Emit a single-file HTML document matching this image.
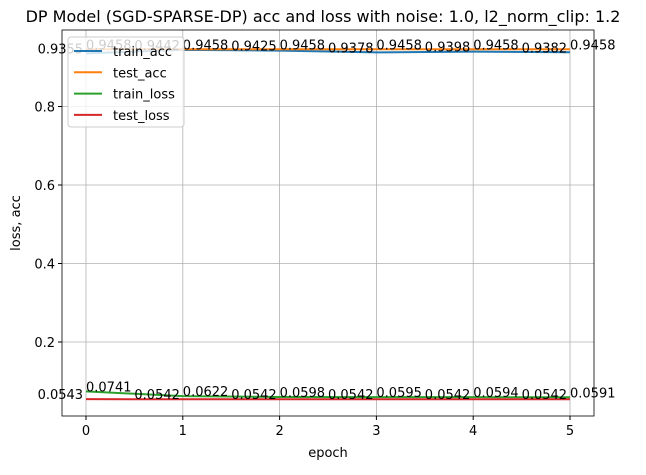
<!DOCTYPE html>
<html><head><meta charset="utf-8"><style>
body{margin:0;background:#fff;font-family:"Liberation Sans","DejaVu Sans",sans-serif}
svg text{font-family:"DejaVu Sans","Liberation Sans",sans-serif}
</style></head><body>
<svg id="c" width="646" height="470"></svg>
<script>
const epochs=[0,1,2,3,4,5];
const trainAcc=[0.9355,0.9442,0.9425,0.9378,0.9398,0.9382];
const testAcc=[0.9458,0.9458,0.9458,0.9458,0.9458,0.9458];
const trainLoss=[0.0741,0.0622,0.0598,0.0595,0.0594,0.0591];
const testLoss=[0.0543,0.0542,0.0542,0.0542,0.0542,0.0542];
const xTicks=[0,1,2,3,4,5];
const yTicks=[0.2,0.4,0.6,0.8];
const L=62,R=594,T=30,B=416;
const X=v=>86+v*96.8, Y=v=>420.5-v*392.5;
const s=document.getElementById('c');const NS='http://www.w3.org/2000/svg';
function el(t,a,txt){const e=document.createElementNS(NS,t);for(const k in a)e.setAttribute(k,a[k]);if(txt!=null)e.textContent=txt;s.appendChild(e);return e;}
let e;
e=el('text',{x:323,y:22,'text-anchor':'middle','font-size':16},'DP Model (SGD-SPARSE-DP) acc and loss with noise: 1.0, l2_norm_clip: 1.2');

xTicks.forEach(t=>{el('line',{x1:X(t),x2:X(t),y1:T,y2:B,stroke:'#b0b0b0','stroke-width':0.8});el('line',{x1:X(t),x2:X(t),y1:B,y2:B+4,stroke:'#000'});
e=el('text',{x:X(t),y:B+19,'text-anchor':'middle','font-size':13},String(t));});
yTicks.forEach(t=>{el('line',{x1:L,x2:R,y1:Y(t),y2:Y(t),stroke:'#b0b0b0','stroke-width':0.8});el('line',{x1:L-4,x2:L,y1:Y(t),y2:Y(t),stroke:'#000'});
e=el('text',{x:L-7,y:Y(t)+5,'text-anchor':'end','font-size':13},t.toFixed(1));});
e=el('rect',{x:L,y:T,width:R-L,height:B-T,fill:'none',stroke:'#000','stroke-width':0.8});
e=el('text',{x:328,y:457,'text-anchor':'middle','font-size':13},'epoch');
e=el('text',{x:20,y:223,'text-anchor':'middle','font-size':13,transform:'rotate(-90 20 223)'},'loss, acc');
const series=[['train-acc',trainAcc,'#1f77b4'],['test-acc',testAcc,'#ff7f0e'],['train-loss',trainLoss,'#2ca02c'],['test-loss',testLoss,'#d62728']];
series.forEach(([n,d,c])=>{e=el('polyline',{points:d.map((v,i)=>X(epochs[i])+','+Y(v)).join(' '),fill:'none',stroke:c,'stroke-width':2});});
function labels(d,off){d.forEach((v,i)=>{e=el('text',{x:X(epochs[i]+off),y:Y(v),'font-size':13},v.toFixed(4));});}
labels(trainAcc,-0.5);labels(testAcc,0);labels(testLoss,-0.5);labels(trainLoss,0);
e=el('rect',{x:68,y:37,width:116,height:90,rx:3,fill:'#fff','fill-opacity':0.8,stroke:'#ccc'});
series.forEach(([n,d,c],i)=>{const y=51+i*21.3;el('line',{x1:74,x2:102,y1:y,y2:y,stroke:c,'stroke-width':2});
e=el('text',{x:113,y:y+5,'font-size':13},n.replace('-','_'));});
</script>
</body></html>
